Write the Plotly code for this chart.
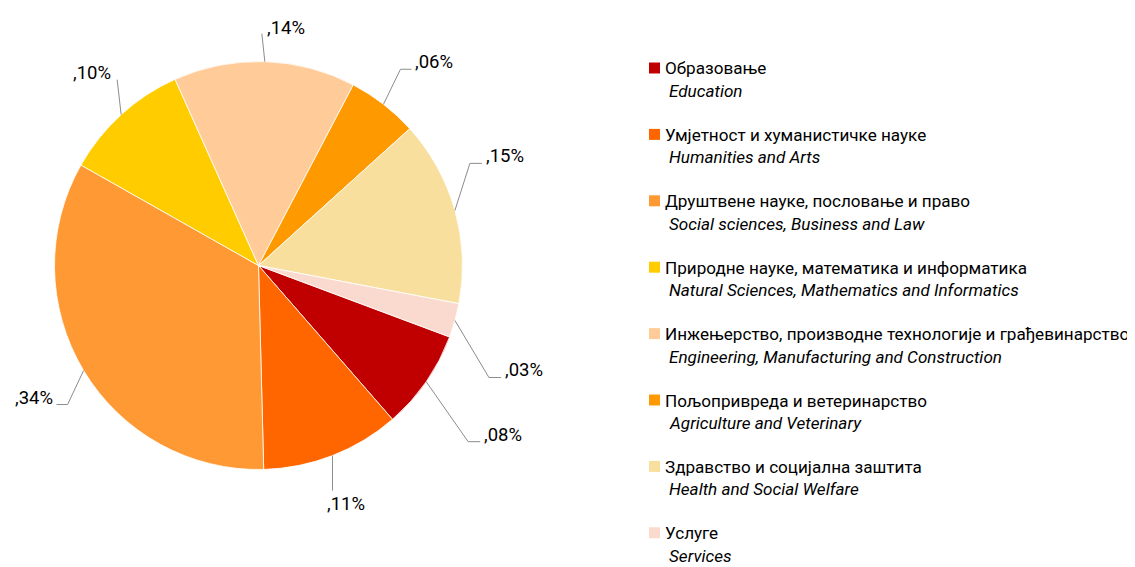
import math
import plotly.graph_objects as go

# ---------------- data ----------------
categories_sr = [
    "Образовање",
    "Умјетност и хуманистичке науке",
    "Друштвене науке, пословање и право",
    "Природне науке, математика и информатика",
    "Инжењерство, производне технологије и грађевинарство",
    "Пољопривреда и ветеринарство",
    "Здравство и социјална заштита",
    "Услуге",
]
categories_en = [
    "Education",
    "Humanities and Arts",
    "Social sciences, Business and Law",
    "Natural Sciences, Mathematics and Informatics",
    "Engineering, Manufacturing and Construction",
    "Agriculture and Veterinary",
    "Health and Social Welfare",
    "Services",
]
values = [7.9, 11.0, 33.6, 10.1, 14.4, 5.6, 14.7, 2.7]
value_labels = [",08%", ",11%", ",34%", ",10%", ",14%", ",06%", ",15%", ",03%"]
colors = ["#C00000", "#FF6600", "#FF9933", "#FFCC00",
          "#FFCC99", "#FF9900", "#F8DF9E", "#FADACE"]

# ---------------- style / layout constants ----------------
W, H = 1135, 567
OFF = 8                               # page body margin
FW, FH = W - OFF, H - OFF             # figure size
CX, CY, R = 258.5, 265.5, 204.0      # pie centre / radius in window px
ROTATION = 110.5
FONT = "Roboto, Liberation Sans, Arial, sans-serif"
FS_LABEL = 18.5
FS_LEG = 17.1
TXT = "#000000"
LINE = "#8C8C8C"
# leader-line offsets from the slice edge (dx, dy), elbow length (px), per slice
leader_offsets = [(42, 60), (0, 35), (-16, 34), (-4, -35),
                  (-3, -28), (17, -35), (15, -47), (34, 57)]
elbows = [12, 0, -11, 0, 0, 11, 12, 12]


def px(x):
    return (x - OFF) / FW


def py(y):
    return 1 - (y - OFF) / FH


fig = go.Figure()
fig.add_trace(go.Pie(
    labels=categories_en,
    values=values,
    sort=False,
    direction="clockwise",
    rotation=ROTATION,
    marker=dict(colors=colors, line=dict(color="white", width=0.8)),
    textinfo="none",
    showlegend=False,
    domain=dict(x=[px(CX - R), px(CX + R)], y=[py(CY + R), py(CY - R)]),
    customdata=categories_sr,
    hovertemplate="%{customdata}<br>%{label}<br>%{percent}<extra></extra>",
))

shapes = []
annotations = []

# ---- data labels with leader lines (anchored at each slice's mid-angle) ----
total = sum(values)
cum = ROTATION
for v, lab, (odx, ody), el in zip(values, value_labels, leader_offsets, elbows):
    span = v / total * 360.0
    mid = math.radians(cum + span / 2)
    cum += span
    sx, sy = math.sin(mid), -math.cos(mid)
    ex, ey = CX + R * sx, CY + R * sy
    lx, ly = ex + odx, ey + ody
    pts = [(ex, ey), (lx, ly)]
    if el != 0:
        hx = lx + el
        pts.append((hx, ly))
        tx, ty = hx + math.copysign(2, el), ly - 7
        xa, ya = ("left" if el > 0 else "right"), "middle"
    elif ody < 0:
        if sx < -0.3:
            tx, ty, xa = lx - 4, ly - 7, "right"
        else:
            tx, ty, xa = lx + 3, ly - 6, "left"
        ya = "middle"
    else:
        tx, ty = lx - 7, ly + 13
        xa, ya = "left", "middle"
    for (x0, y0), (x1, y1) in zip(pts[:-1], pts[1:]):
        shapes.append(dict(type="line", xref="paper", yref="paper",
                           x0=px(x0), y0=py(y0), x1=px(x1), y1=py(y1),
                           line=dict(color=LINE, width=1)))
    annotations.append(dict(x=px(tx), y=py(ty), xref="paper", yref="paper",
                            text=lab, showarrow=False, xanchor=xa, yanchor=ya,
                            font=dict(family=FONT, size=FS_LABEL, color=TXT)))

# ---- custom legend ----
LEG_X, LEG_Y0, LEG_DY, LEG_SUB = 649, 68.5, 66.4, 22.5
for i, (sr, en, c) in enumerate(zip(categories_sr, categories_en, colors)):
    yc = LEG_Y0 + i * LEG_DY
    shapes.append(dict(type="rect", xref="paper", yref="paper",
                       x0=px(LEG_X), x1=px(LEG_X + 11),
                       y0=py(yc + 5), y1=py(yc - 6),
                       fillcolor=c, line=dict(width=0)))
    annotations.append(dict(x=px(LEG_X + 14), y=py(yc), xref="paper", yref="paper",
                            text=sr, showarrow=False, xanchor="left", yanchor="middle",
                            font=dict(family=FONT, size=FS_LEG, color=TXT)))
    annotations.append(dict(x=px(LEG_X + 18), y=py(yc + LEG_SUB), xref="paper", yref="paper",
                            text="<i>" + en + "</i>", showarrow=False,
                            xanchor="left", yanchor="middle",
                            font=dict(family=FONT, size=FS_LEG, color=TXT)))

fig.update_layout(
    width=FW, height=FH,
    margin=dict(l=0, r=0, t=0, b=0),
    paper_bgcolor="white", plot_bgcolor="white",
    shapes=shapes, annotations=annotations,
    showlegend=False,
)

fig.write_html("out.html")
